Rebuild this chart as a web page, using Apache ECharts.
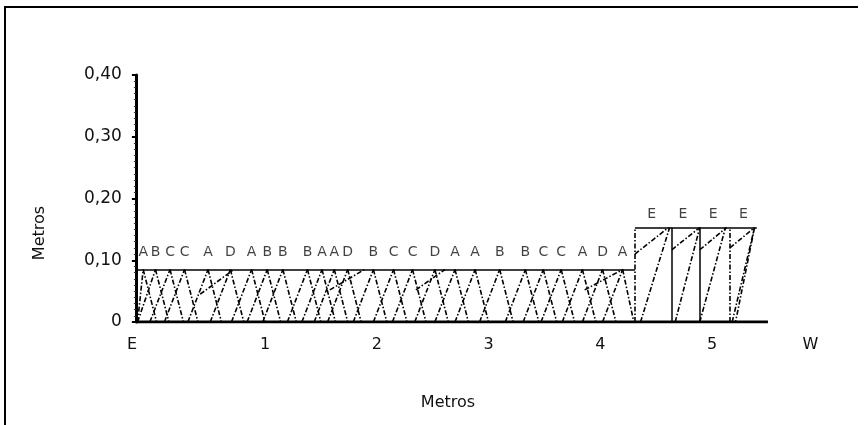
<!DOCTYPE html>
<html><head><meta charset="utf-8">
<script src="https://cdn.jsdelivr.net/npm/echarts@6/dist/echarts.min.js"></script>
<style>html,body{margin:0;padding:0;background:#fff}#c{width:865px;height:425px}</style>
</head><body><div id="c"></div>
<script>
// ---- data ----
var xTickValues = [-0.19, 1, 2, 3, 4, 5, 5.88];
var xTickLabels = ['E', '1', '2', '3', '4', '5', 'W'];
var yTickValues = [0, 0.1, 0.2, 0.3, 0.4];
var yTickLabels = ['0', '0,10', '0,20', '0,30', '0,40'];

var lowLetters = ['A','B','C','C','A','D','A','B','B','B','A','A','D','B','C','C','D','A','A','B','B','C','C','A','D','A'];
var lowLetterX = [-0.09,0.02,0.15,0.28,0.49,0.69,0.88,1.02,1.16,1.38,1.51,1.62,1.74,1.97,2.15,2.32,2.52,2.70,2.88,3.10,3.33,3.49,3.65,3.84,4.02,4.20];
var lowLetterY = 0.112;
var highLetters = ['E','E','E','E'];
var highLetterX = [4.46,4.74,5.01,5.28];
var highLetterY = 0.175;

var lowTop = 0.085;
var highTop = 0.153;
// stems in the low zone: base x -> top x (rising to the right)
var lowStemBase = [-0.14,-0.14,-0.03,0.10,0.31,0.51,0.70,0.84,0.98,1.20,1.33,1.44,1.56,1.79,1.97,2.14,2.34,2.52,2.70,2.92,3.15,3.31,3.47,3.66,3.84,4.02];
var lowStemTop  = [-0.09,0.02,0.15,0.28,0.49,0.69,0.88,1.02,1.16,1.38,1.51,1.62,1.74,1.97,2.15,2.32,2.52,2.70,2.88,3.10,3.33,3.49,3.65,3.84,4.02,4.20];
// back lines: top x -> base x (falling to the right)
var lowBackTop  = [-0.09,0.02,0.15,0.28,0.49,0.69,0.88,1.02,1.16,1.38,1.51,1.62,1.74,1.97,2.15,2.32,2.52,2.70,2.88,3.10,3.33,3.49,3.65,3.84,4.02,4.20];
var lowBackBase = [0.03,0.14,0.27,0.40,0.61,0.81,1.00,1.14,1.28,1.50,1.63,1.74,1.86,2.09,2.27,2.44,2.64,2.82,3.00,3.22,3.45,3.61,3.77,3.96,4.14,4.30];
// shallow arrows: [x0, y0, x1, y1]
var lowArrows = [[0.42,0.045,0.72,0.085],[1.58,0.052,1.89,0.085],[2.35,0.052,2.61,0.085],[3.86,0.052,4.20,0.085]];

// outline solid lines [x0,y0,x1,y1]
var solidSegs = [[-0.15,0.085,4.31,0.085],[4.31,0.153,5.40,0.153],[4.64,0,4.64,0.153],[4.89,0,4.89,0.153]];
// high zone dash-dot segments
var highSegs = [[4.31,0,4.31,0.153],[4.36,0,4.62,0.153],[4.67,0,4.89,0.153],[4.89,0,5.12,0.153],[5.18,0,5.38,0.153],
  [5.38,0.153,5.21,0],[5.16,0,5.16,0.153],[4.31,0.11,4.61,0.153],[4.64,0.117,4.89,0.153],[4.89,0.117,5.13,0.153],[5.16,0.12,5.38,0.153]];
var baseline = [[-0.155,0],[5.50,0]];

// ---- build ----
function seg(a){return {coords:[[a[0],a[1]],[a[2],a[3]]]};}
var dashData = [];
lowStemBase.forEach(function(b,i){dashData.push(seg([b,0,lowStemTop[i],lowTop]));});
lowBackTop.forEach(function(t,i){dashData.push(seg([t,lowTop,lowBackBase[i],0]));});
lowArrows.forEach(function(a){dashData.push(seg(a));});
highSegs.forEach(function(a){dashData.push(seg(a));});

var FONT = 'DejaVu Sans';
var chart = echarts.init(document.getElementById('c'));
chart.setOption({
  animation:false,
  grid:{left:130.9,right:30,top:75,bottom:103},
  xAxis:{type:'value',min:-0.2,max:6.1,
    axisLine:{show:false,onZero:false},axisTick:{show:false},splitLine:{show:false},
    axisLabel:{customValues:xTickValues,margin:15,fontFamily:FONT,fontSize:16,color:'#111',
      formatter:function(v){var i=-1;xTickValues.forEach(function(t,k){if(Math.abs(t-v)<1e-9)i=k;});return i>=0?xTickLabels[i]:'';}}},
  yAxis:{type:'value',min:0,max:0.4,interval:0.1,offset:-5,
    axisLine:{show:true,onZero:false,lineStyle:{color:'#000',width:3}},
    axisTick:{show:true,inside:false,length:4,lineStyle:{color:'#000',width:2}},
    minorTick:{show:true,splitNumber:10,length:2,lineStyle:{color:'#333'}},
    splitLine:{show:false},
    axisLabel:{margin:14,fontFamily:FONT,fontSize:17,color:'#111',
      formatter:function(v){var i=-1;yTickValues.forEach(function(t,k){if(Math.abs(t-v)<1e-9)i=k;});return i>=0?yTickLabels[i]:'';}}},
  graphic:[
    {type:'line',shape:{x1:4,y1:7,x2:858,y2:7},style:{stroke:'#000',lineWidth:2}},
    {type:'line',shape:{x1:5,y1:6,x2:5,y2:425},style:{stroke:'#000',lineWidth:2}},
    {type:'text',x:448,y:403,style:{text:'Metros',font:'16px "DejaVu Sans"',fill:'#111',align:'center',verticalAlign:'middle'}},
    {type:'text',rotation:Math.PI/2,x:40,y:233,style:{text:'Metros',font:'16px "DejaVu Sans"',fill:'#111',align:'center',verticalAlign:'middle'}}
  ],
  series:[
    {type:'line',data:baseline,symbol:'none',lineStyle:{color:'#000',width:3},z:3},
    {type:'lines',coordinateSystem:'cartesian2d',data:solidSegs.map(seg),lineStyle:{color:'#000',width:1.5,type:'solid',opacity:1},z:3},
    {type:'lines',coordinateSystem:'cartesian2d',data:dashData,lineStyle:{color:'#000',width:1.6,type:[5,2,1.5,2],opacity:1},z:2},
    {type:'scatter',symbolSize:0,data:lowLetterX.map(function(x,i){return [x,lowLetterY,lowLetters[i]];}),
      label:{show:true,position:'inside',formatter:function(p){return p.data[2];},fontFamily:FONT,fontSize:14,color:'#111'}},
    {type:'scatter',symbolSize:0,data:highLetterX.map(function(x,i){return [x,highLetterY,highLetters[i]];}),
      label:{show:true,position:'inside',formatter:function(p){return p.data[2];},fontFamily:FONT,fontSize:14,color:'#111'}}
  ]
});
</script></body></html>
